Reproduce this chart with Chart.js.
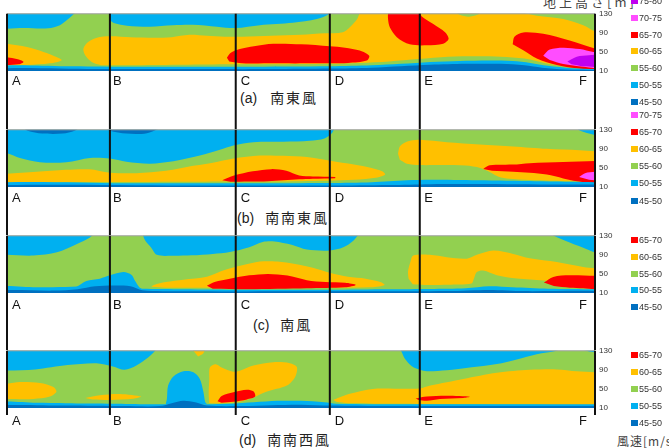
<!DOCTYPE html>
<html>
<head>
<meta charset="utf-8">
<script src="https://cdn.jsdelivr.net/npm/chart.js@4.4.1/dist/chart.umd.min.js"></script>
<style>
body { margin: 0; background: #fff; width: 669px; height: 448px; overflow: hidden; position: relative; font-family: "Liberation Sans", Arial, sans-serif; }
.panel { position: absolute; left: 0; width: 669px; }
.title { position: absolute; font-size: 14px; line-height: 20px; color: #222; white-space: nowrap; }
.title .jp { font-family: "Noto Sans CJK JP", sans-serif; letter-spacing: 2px; margin-left: 11px; }
.axisname { position: absolute; font-family: "Noto Sans CJK JP", sans-serif; color: #444; white-space: nowrap; line-height: 14px; }
.leg { position: absolute; left: 631px; font-size: 9px; line-height: 10px; color: #333; white-space: nowrap; }
.leg i { display: inline-block; width: 7px; height: 6px; margin-right: 1px; }
</style>
</head>
<body>
<div class="axisname" style="left:543px;top:-5px;font-size:13px;letter-spacing:3px">地上高さ[m]</div>
<div class="axisname" style="left:617px;top:434px;font-size:12px;letter-spacing:1px">風速[m/s]</div>
<div class="title" style="left:240px;top:87px">(a)<span class="jp" style="margin-left:13px">南東風</span></div>
<div class="title" style="left:237px;top:207px">(b)<span class="jp">南南東風</span></div>
<div class="title" style="left:253px;top:314px">(c)<span class="jp">南風</span></div>
<div class="title" style="left:239px;top:429px">(d)<span class="jp">南南西風</span></div>
<script>
// wind speed classes (m/s) and their colours
const speedClasses = ['75-80', '70-75', '65-70', '60-65', '55-60', '50-55', '45-50'];
const classColors = ['#c000f0', '#ff4dff', '#ff0000', '#ffc000', '#92d050', '#00b0f0', '#0070c0'];

// section points along the profile (0-100) and height ticks (m)
const sections = ['A', 'B', 'C', 'D', 'E', 'F'];
const sectionPos = [0, 17.5, 38.9, 54.9, 70.2, 100];
const heightTicks = [10, 50, 90, 130];

// contour regions: [distance, height m]
const fullRect = [[-2, 4], [102, 4], [102, 136], [-2, 136]];

// (a) 南東風
const aBlue1 = [[-2, 136], [-2, 102], [3, 100], [7, 99.5], [9, 106], [10.3, 118], [11.4, 130], [12, 136]];
const aBlue2 = [[17.4, 136], [17.5, 118], [18.3, 110], [20.4, 105], [24.3, 103], [28.2, 106], [31.6, 107], [35.7, 103], [38.9, 100], [43, 106], [48.6, 111], [52.7, 119], [54.6, 128], [55, 136]];
const aOrangeL = [[-2, 68], [0, 67.3], [3.4, 60.3], [6.2, 50], [8.4, 39.6], [9.3, 32.8], [7.3, 26], [3.4, 22.4], [0, 22], [-2, 22]];
const aOrange = [[16, 22], [14.4, 29], [13.3, 43], [13, 57], [13.8, 70.6], [15.3, 80], [17.5, 83], [21, 81], [25, 80], [28, 81], [31, 86], [34, 84], [37, 82], [40, 82], [45, 84], [50, 86], [54, 89], [57.1, 91.4], [58.3, 102], [59.5, 118], [60.4, 136], [86.7, 136], [88.5, 130], [90.1, 126], [94.6, 119], [98, 106], [100.5, 90], [102, 88], [102, 13], [100, 14], [96, 18], [92, 25], [88, 36], [84, 40], [80, 41], [75, 40], [70, 35], [65, 30], [60, 27], [55, 25], [45, 24], [38, 24], [30, 23], [22, 22]];
const aGreenHump = [[76, 136], [77, 128], [78.5, 124], [80, 128], [81, 136]];
const aRedL = [[-2, 39], [0.5, 38], [2, 34], [2.8, 29], [2, 24], [0, 22.5], [-2, 22]];
const aRedC = [[37.4, 38], [38, 48], [39.6, 56], [42, 62], [45.3, 67], [50, 66], [54.9, 62], [57.5, 59], [60, 53], [61.6, 42], [61.2, 32], [58, 27], [52, 26], [45, 26], [40, 26.5], [37.8, 30]];
const aRedTop = [[64.8, 136], [64.8, 119], [65.1, 101.7], [66.3, 81], [68.5, 65.9], [71.4, 63.8], [74.2, 67.3], [75.1, 77.6], [74.5, 91.4], [72.5, 108.7], [70.5, 125], [70.3, 136]];
const aRedR = [[86, 66], [86.3, 82], [87.8, 91], [91.2, 88], [95.7, 74], [99.7, 58], [102, 52], [102, 14], [96.9, 15.6], [93.5, 22.4], [90.1, 36.3], [87.8, 53.4]];
const aPink = [[91.2, 42], [92.3, 55], [94.6, 59], [97.4, 56], [99.7, 50], [102, 46], [102, 17], [98, 19], [94.6, 24.5], [92.3, 33]];
const aPurple = [[95.3, 30], [96.9, 40], [99, 43], [102, 43], [102, 21], [98, 20], [96, 24]];
const aLightBlue = [[-2, 4], [-2, 20], [10, 20], [20, 19], [30, 19], [40, 19], [55, 20], [62, 22], [67, 25], [72, 29], [77, 31], [82, 32], [86, 31], [89, 27], [92, 21], [96, 16], [100, 14], [102, 13.5], [102, 4]];
const aDarkBlue = [[-2, 4], [-2, 15], [15, 14], [30, 14], [45, 14], [55, 15], [62, 17], [67, 20], [72, 23], [78, 25], [84, 25], [88, 22], [91, 17], [95, 13], [100, 12], [102, 12], [102, 4]];

// (b) 南南東風
const bBlue = [[-2, 136], [-2, 82], [0, 81], [2.2, 71], [5.6, 62], [10.1, 62], [14.1, 71], [17.5, 70], [20.3, 63], [24.3, 59], [28.3, 64], [32.8, 76], [36.2, 88], [38.5, 97], [41.9, 104], [47, 105], [51.5, 107], [54, 112], [55.2, 122], [55.8, 136]];
const bBlueR = [[96.5, 136], [97.5, 128], [99, 122], [100.5, 118], [102, 117], [102, 136]];
const bDark1 = [[2.5, 136], [3.5, 128], [6, 122], [9.5, 122], [11.5, 128], [12.5, 136]];
const bDark2 = [[16.5, 136], [17.5, 128], [20.3, 122], [23.8, 123], [26.5, 136]];
const bOrangeL = [[-2, 20], [-2, 38], [0, 38], [5, 42], [10, 46], [14, 47], [17.5, 40], [22, 39], [27, 44], [32, 55], [35, 61], [38.5, 70], [43, 76], [47, 75.5], [51, 73], [55, 65], [59, 57], [62, 50], [63.8, 43], [64.3, 36], [63, 30], [59, 25], [50, 22], [40, 21.5], [30, 21], [20, 20.5], [10, 20.5], [0, 20]];
const bOrangeR = [[66.5, 80], [66.8, 95], [67.8, 104], [69, 108], [70.2, 109], [74.8, 104], [80.4, 99], [86.1, 95], [91.8, 90], [97.4, 87], [100, 85], [102, 84], [102, 20], [100, 21], [95, 22], [88, 25], [84, 30], [82, 42], [80.5, 50], [78, 55], [74, 56], [70.2, 56], [68, 59], [66.8, 67]];
const bRedC = [[36.6, 24], [38.6, 34], [41.8, 43], [45, 47.5], [47.5, 44], [49.7, 34], [52, 32], [55.8, 31], [55.8, 28.5], [52, 27.5], [49.7, 26], [44.4, 22], [38, 21]];
const bRedF = [[81, 48], [82.1, 55.5], [86, 57], [88.9, 60], [94.6, 62.4], [100, 64.5], [102, 65], [102, 19], [96.9, 22], [94.6, 28], [91.8, 36], [88.9, 40], [86.1, 42], [82.5, 44]];
const bPink = [[97.3, 31], [98.3, 39], [100, 42], [102, 42], [102, 24], [99, 25]];
const bLightBlue = [[-2, 4], [-2, 19], [20, 18], [40, 18], [55, 18.5], [62, 20], [68, 24], [72, 25], [80, 24], [90, 22], [100, 20], [102, 20], [102, 4]];
const bDarkBlue = [[-2, 4], [-2, 13.5], [30, 13], [55, 13], [65, 14], [72, 16], [85, 16], [100, 15], [102, 15], [102, 4]];

// (c) 南風
const cBlue1 = [[-2, 136], [-2, 90], [0, 90], [4.5, 88.6], [8.5, 95.5], [11.9, 112.8], [14.1, 126.6], [15, 136]];
const cBlue2 = [[23, 136], [23.5, 120], [24.5, 105.7], [25.5, 90], [28, 88], [31.4, 89], [35, 92], [37.9, 96], [41.2, 106], [43.5, 117], [45.5, 118], [48.4, 111], [51, 101], [54.9, 99], [57.2, 105.8], [58.9, 119.7], [60, 136]];
const cBlue3 = [[92.5, 136], [93, 130], [95.7, 116], [98.6, 102], [100, 95.5], [102, 95], [102, 136]];
const cBlueLow = [[11, 19], [12, 24], [13.5, 35], [15.8, 40], [17.5, 47], [19.8, 54], [21.2, 48], [21.8, 35], [22.5, 22], [23, 18]];
const cOrange = [[24.5, 23], [25, 27], [27, 33], [30, 38], [34, 44], [37, 58], [40, 68], [43, 76], [46, 76], [49, 71], [52, 63], [55, 52], [58, 44], [61, 40], [63.5, 33], [64.2, 27], [62, 22], [50, 21], [35, 21], [27, 21]];
const cRed = [[34, 25], [35.3, 33], [37.9, 40], [41.2, 47], [44.4, 50], [47.7, 46.7], [51, 37], [54.2, 33], [57.5, 31.5], [59.3, 27], [57.5, 22], [51, 20], [41, 18], [35, 19]];
const cOrangeR = [[68.3, 40], [68.2, 55], [68.6, 75], [69.1, 88.6], [71.9, 90], [74.8, 85], [78.2, 82], [79.9, 90], [82.7, 99], [86.1, 92], [88.9, 83], [93.5, 75], [98, 64.5], [100, 62], [102, 61], [102, 30], [95, 31], [91.2, 36], [86.7, 40.3], [83.3, 47.2], [81, 57], [79.9, 54], [79.4, 40], [79, 30], [75, 27.5], [71, 27], [69, 28.5]];
const cRedR = [[91.3, 32], [92.9, 43.8], [95.7, 47.2], [100, 46], [102, 46], [102, 19], [98, 20], [95.7, 21], [93, 24.5]];
const cLightBlue = [[-2, 4], [-2, 23], [5, 22], [10, 22.5], [14, 24], [18, 22], [23, 19], [30, 18], [40, 17], [55, 17], [65, 18], [72, 18.5], [78, 20], [82, 24], [86, 22], [92, 19], [100, 18], [102, 18], [102, 4]];
const cDarkBlue = [[-2, 4], [-2, 15], [8, 15], [12, 18], [15, 24], [18, 25.5], [21, 24], [23, 16], [30, 13.5], [55, 13.5], [75, 14], [82, 16.5], [88, 14], [102, 13.5], [102, 4]];

// (d) 南南西風
const dBlue1 = [[-2, 136], [-2, 89], [0, 88.5], [4.8, 91], [10.3, 100], [15.2, 104], [18, 97], [20, 90], [22, 99], [24, 116], [25.2, 130], [25.5, 136]];
const dBlue2 = [[66.8, 136], [67.1, 128], [67.7, 112.7], [68.8, 98], [70.2, 90], [71.4, 87], [74.8, 89], [78.7, 95], [83.3, 102.4], [86.7, 112], [90.1, 123], [93.5, 130], [94, 136]];
const dBlue3 = [[97.5, 136], [98.5, 130], [100, 127], [102, 127], [102, 136]];
const dBlueLow = [[27, 18], [27.2, 30], [27.4, 57], [28.3, 76], [30, 87], [31.7, 85], [32.8, 71], [33.4, 44], [33.7, 23], [34, 18]];
const dOrangeA = [[-2, 30], [-2, 61], [0, 61], [2.2, 64.4], [5.6, 62.4], [7.9, 54], [8.4, 44], [7.3, 34], [4.5, 29], [0, 29]];
const dOrangeB = [[13.3, 31], [15.8, 37], [19.2, 39.5], [22.8, 34], [21.5, 29.5], [17.5, 27], [14.5, 28]];
const dSpike = [[31.3, 136], [33.6, 136], [33.4, 125], [32.5, 118]];
const dOrangeC = [[34.4, 20], [34.3, 40], [34.4, 70], [34.5, 95], [35.5, 102], [36.5, 95], [38.5, 86], [39.6, 88], [41.9, 99], [45.3, 106], [48.1, 104], [49.3, 96], [49, 75], [47.6, 57], [44.1, 44], [41.9, 32], [39.6, 23], [36, 19.5]];
const dRedC = [[35.8, 24], [36.5, 35], [38.5, 43], [40.8, 48.5], [41.9, 45], [42.2, 34], [40.8, 28], [38.5, 23], [36.5, 21]];
const dOrangeR = [[55.5, 27], [56.5, 32], [58.3, 40], [62.2, 50], [66.2, 50.6], [70.2, 51], [72, 57], [77.6, 71], [83.3, 84], [88.9, 90], [93.5, 91], [96.9, 87], [100, 85], [102, 85], [102, 18], [90, 18], [75, 18.5], [65, 19], [58, 20], [56, 23]];
const dRedE = [[69.5, 30], [71.4, 34], [74.8, 35.5], [78.7, 33.5], [77.6, 31], [73.6, 29], [71.4, 25], [70, 27]];
const dLightBlue = [[-2, 4], [-2, 22], [5, 21], [10, 20], [18, 19], [24, 18], [27, 18], [34, 18], [38, 19], [42, 22], [46, 25], [50, 25], [54, 22], [56, 19], [65, 18], [75, 18], [85, 18], [100, 18], [102, 18], [102, 4]];
const dDarkBlue = [[-2, 4], [-2, 15], [10, 15], [20, 14], [26, 14], [28, 20], [30, 25], [32, 22], [34, 15], [40, 14], [45, 16], [50, 17], [55, 15], [65, 14], [80, 14], [100, 14], [102, 14], [102, 4]];

const panels = [
    { top: 13, below: 58, labelDy: 10.5, lineEnd: -300, legendFrom: 0, legendY: 0.7, legendStep: 16.9,
      layers: [['55-60', fullRect], ['50-55', aBlue1], ['50-55', aBlue2], ['60-65', aOrangeL], ['60-65', aOrange],
               ['55-60', aGreenHump], ['65-70', aRedL], ['65-70', aRedC], ['65-70', aRedTop], ['65-70', aRedR],
               ['70-75', aPink], ['75-80', aPurple], ['50-55', aLightBlue], ['45-50', aDarkBlue]] },
    { top: 129, below: 48, labelDy: 11, lineEnd: -300, legendFrom: 1, legendY: 115, legendStep: 17.1,
      layers: [['55-60', fullRect], ['50-55', bBlue], ['50-55', bBlueR], ['45-50', bDark1], ['45-50', bDark2],
               ['60-65', bOrangeL], ['60-65', bOrangeR], ['65-70', bRedC], ['65-70', bRedF], ['70-75', bPink],
               ['50-55', bLightBlue], ['45-50', bDarkBlue]] },
    { top: 235, below: 57, labelDy: 12.5, lineEnd: -300, legendFrom: 2, legendY: 240, legendStep: 16.8,
      layers: [['55-60', fullRect], ['50-55', cBlue1], ['50-55', cBlue2], ['50-55', cBlue3], ['60-65', cOrange],
               ['65-70', cRed], ['60-65', cOrangeR], ['65-70', cRedR], ['50-55', cBlueLow], ['50-55', cLightBlue],
               ['45-50', cDarkBlue]] },
    { top: 350, below: 40, labelDy: 13, lineEnd: -4.5, legendFrom: 2, legendY: 355, legendStep: 16.9,
      layers: [['55-60', fullRect], ['50-55', dBlue1], ['50-55', dBlue2], ['50-55', dBlue3], ['60-65', dOrangeA],
               ['60-65', dOrangeB], ['60-65', dSpike], ['60-65', dOrangeC], ['65-70', dRedC], ['60-65', dOrangeR],
               ['65-70', dRedE], ['50-55', dBlueLow], ['50-55', dLightBlue], ['45-50', dDarkBlue]] }
];

const labelNudge = [5, 3, 5, 5, 4.5, -8];

function colorOf(cls) {
    return classColors[speedClasses.indexOf(cls)];
}

function buildPanel(p) {
    const wrap = document.createElement('div');
    wrap.className = 'panel';
    wrap.style.top = (p.top - 8) + 'px';
    const h = 8 + 58 + p.below;
    wrap.style.height = h + 'px';
    const canvas = document.createElement('canvas');
    canvas.width = 669;
    canvas.height = h;
    wrap.appendChild(canvas);
    document.body.appendChild(wrap);

    const datasets = p.layers.map((layer, i) => ({
        data: layer[1].map(pt => ({ x: pt[0], y: pt[1] })),
        showLine: true,
        fill: 'shape',
        backgroundColor: colorOf(layer[0]),
        borderWidth: 0,
        pointRadius: 0,
        tension: layer[1] === fullRect ? 0 : 0.3,
        order: 100 - i
    }));

    // thin border on the top of the section
    datasets.push({
        data: [{ x: 0, y: 130 }, { x: 100, y: 130 }],
        showLine: true, fill: false, borderColor: '#a0a0a0', borderWidth: 1,
        pointRadius: 0, clip: false, order: -5
    });

    // section lines A-F
    sectionPos.forEach(pos => {
        datasets.push({
            data: [{ x: pos, y: 130 }, { x: pos, y: p.lineEnd }],
            showLine: true, fill: false, borderColor: '#111', borderWidth: 2,
            pointRadius: 0, clip: false, order: -10
        });
    });

    const sectionLabels = {
        id: 'sectionLabels',
        afterDraw(chart) {
            const { ctx, scales: { x, y } } = chart;
            const py = y.getPixelForValue(10) + p.labelDy;
            ctx.save();
            ctx.font = '13px "Liberation Sans", Arial, sans-serif';
            ctx.fillStyle = '#111';
            ctx.textBaseline = 'middle';
            sections.forEach((s, i) => {
                const last = i === sections.length - 1;
                ctx.textAlign = last ? 'right' : 'left';
                ctx.fillText(s, x.getPixelForValue(sectionPos[i]) + labelNudge[i], py);
            });
            ctx.restore();
        }
    };

    new Chart(canvas, {
        type: 'scatter',
        data: { datasets },
        options: {
            responsive: false,
            devicePixelRatio: 1,
            animation: false,
            events: [],
            layout: { padding: { left: 7, right: 0, top: 8, bottom: p.below } },
            scales: {
                x: { type: 'linear', min: 0, max: 100, display: false },
                y: {
                    type: 'linear', min: 10, max: 130, position: 'right',
                    grid: { display: false, drawTicks: false },
                    border: { display: false },
                    ticks: { padding: 4, color: '#333', font: { size: 8, family: 'Liberation Sans' } },
                    afterBuildTicks: scale => { scale.ticks = heightTicks.map(v => ({ value: v })); },
                    afterFit: scale => { scale.width = 74; }
                }
            },
            plugins: {
                legend: { display: false },
                tooltip: { enabled: false }
            }
        },
        plugins: [sectionLabels]
    });

    // colour key on the right
    speedClasses.slice(p.legendFrom).forEach((cls, i) => {
        const row = document.createElement('div');
        row.className = 'leg';
        row.style.top = (p.legendY + i * p.legendStep - 5) + 'px';
        row.innerHTML = '<i style="background:' + colorOf(cls) + '"></i>' + cls;
        document.body.appendChild(row);
    });
}

panels.forEach(buildPanel);
</script>
</body>
</html>
